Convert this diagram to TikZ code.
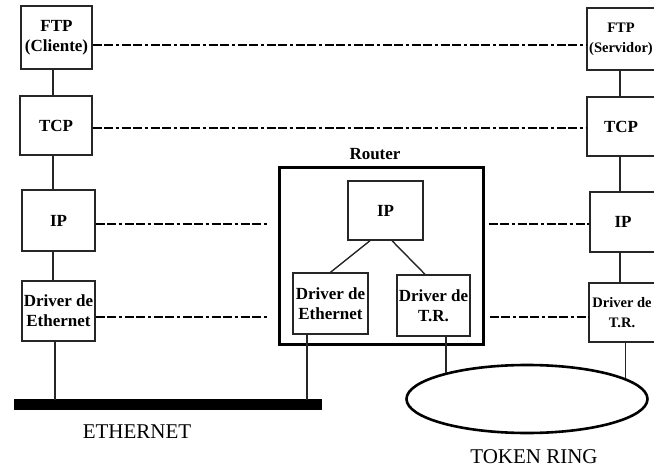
\documentclass[tikz,border=0pt]{standalone}
\usepackage{fontspec}
\setmainfont{Liberation Serif}
\usetikzlibrary{shapes.geometric}
\begin{document}
\begin{tikzpicture}[x=1pt,y=-1pt,
  layerbox/.style={draw=black!85,line width=1.4pt,inner sep=0pt,align=center,
    font=\fontsize{17}{20}\selectfont\bfseries,fill=white},
  smallbox/.style={layerbox,font=\fontsize{14.5}{20}\selectfont\bfseries},
  routerbox/.style={draw,line width=3pt,inner sep=0pt},
  peer/.style={line width=2.4pt,dash pattern=on 9pt off 2.5pt on 9pt off 2.5pt on 3.5pt off 2.5pt},
  vlink/.style={line width=2pt,black!85},
  netlink/.style={line width=1.4pt,black!85},
  netlabel/.style={font=\fontsize{21}{24}\selectfont}]
\useasboundingbox (0,0) rectangle (654,468);
% left host
\node[layerbox,minimum width=71pt,minimum height=63pt] (ftpC) at (56.5,37.5) {FTP\\(Cliente)};
\node[layerbox,minimum width=72pt,minimum height=59pt] (tcpC) at (56,125.5) {TCP};
\node[layerbox,minimum width=73pt,minimum height=61pt] (ipC) at (58.5,220.5) {IP};
\node[layerbox,minimum width=73pt,minimum height=60pt] (drvC) at (58.5,311) {Driver de\\Ethernet};
% router
\node[routerbox,minimum width=204pt,minimum height=176pt] (router) at (381,256) {};
\node[font=\fontsize{17}{20}\selectfont\bfseries] (rlabel) at (375,154) {Router};
\node[layerbox,minimum width=75pt,minimum height=59pt] (ipR) at (385.5,210.5) {IP};
\node[layerbox,minimum width=75pt,minimum height=61pt] (drvER) at (330.5,303.5) {Driver de\\Ethernet};
\node[layerbox,minimum width=73pt,minimum height=61pt] (drvTR) at (433.5,305.5) {Driver de\\T.R.};
% right host
\node[smallbox,minimum width=68pt,minimum height=62pt] (ftpS) at (621,39) {FTP\\(Servidor)};
\node[layerbox,minimum width=68pt,minimum height=59pt] (tcpS) at (621,126.5) {TCP};
\node[layerbox,minimum width=66pt,minimum height=60pt] (ipS) at (623,222) {IP};
\node[smallbox,minimum width=66pt,minimum height=59pt] (drvS) at (622,312.5) {Driver de\\T.R.};
% networks
\coordinate (ethL) at (14,404.5);
\coordinate (ethR) at (322,404.5);
\draw[line width=11pt] (ethL) -- (ethR);
\node[netlabel] (ethlabel) at (137,432) {ETHERNET};
\node[draw,ellipse,line width=2.6pt,inner sep=0pt,minimum width=241pt,minimum height=68pt] (ring) at (527,399) {};
\node[netlabel] (ringlabel) at (534,457) {TOKEN RING};
% column coordinates
\coordinate (colL) at (53,0);
\coordinate (colR) at (620,0);
\coordinate (ethTop) at (0,399.5);
\coordinate (colE) at (307,0);
% vertical links
\draw[vlink] (ftpC.south -| colL) -- (tcpC.north -| colL);
\draw[vlink] (tcpC.south -| colL) -- (ipC.north -| colL);
\draw[netlink] (ipC.south -| colL) -- (drvC.north -| colL);
\draw[vlink] (ftpS.south -| colR) -- (tcpS.north -| colR);
\draw[vlink] (tcpS.south -| colR) -- (ipS.north -| colR);
\draw[netlink] (ipS.south -| colR) -- (drvS.north -| colR);
% router internal
\draw[netlink] ([xshift=-15.5pt]ipR.south) -- (drvER.north);
\draw[netlink] ([xshift=6.5pt]ipR.south) -- ([xshift=-8.5pt]drvTR.north);
% to networks
\draw[vlink] ([xshift=-4pt]drvC.south) -- ([xshift=-4pt]drvC.south |- ethTop);
\draw[netlink] (colE |- drvER.south) -- (colE |- ethTop);
\draw[netlink] (ring.162.7 |- drvTR.south) -- (ring.162.7);
\draw[netlink] (ring.12.5 |- drvS.south) -- (ring.12.5);
% peer dashed lines
\draw[peer] ([yshift=-7.5pt]ftpC.east) -- ([yshift=-6pt]ftpS.west);
\draw[peer] ([yshift=-2.5pt]tcpC.east) -- ([yshift=-1.5pt]tcpS.west);
\draw[peer] ([yshift=-3.5pt]ipC.east) -- ([xshift=-10pt,yshift=-3.5pt]router.west |- ipC.east);
\draw[peer] ([xshift=4pt,yshift=-2pt]router.east |- ipS.west) -- ([yshift=-2pt]ipS.west);
\draw[peer] ([yshift=-6pt]drvC.east) -- ([xshift=-9pt,yshift=-6pt]router.west |- drvC.east);
\draw[peer] ([xshift=5pt,yshift=-4.5pt]router.east |- drvS.west) -- ([yshift=-4.5pt]drvS.west);
\end{tikzpicture}
\end{document}
